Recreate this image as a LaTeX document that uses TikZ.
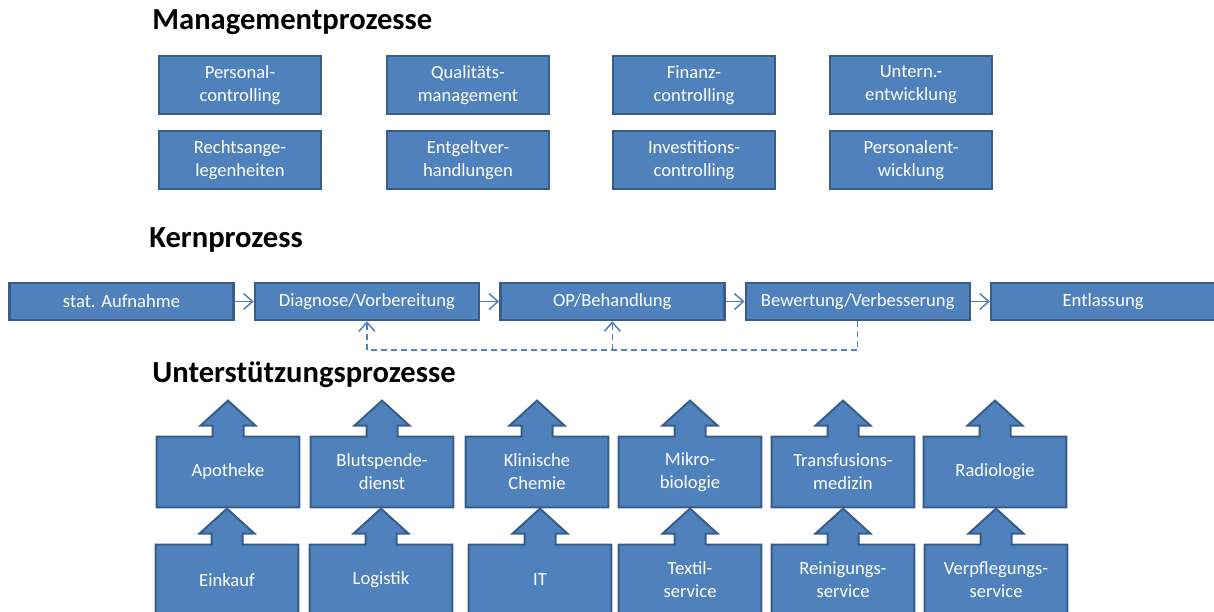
\documentclass[tikz,border=0pt]{standalone}
\usepackage{fontspec}
\setmainfont{Carlito}
\usetikzlibrary{arrows.meta,backgrounds,positioning,calc}
\definecolor{boxfill}{HTML}{4F81BD}
\definecolor{boxline}{HTML}{385D8A}

% box with an up arrow on top (drawn behind the node text)
\newcommand{\supportshape}[1]{%
  \begin{scope}[on background layer]
    \draw[shapeline] (#1.south west) -- (#1.north west) -- ($(#1.north)+(-15.5,0)$)
      -- ++(0,-11) -- ++(-12,0) -- ++(27.5,-25) -- ++(27.5,25) -- ++(-12,0)
      -- ++(0,11) -- (#1.north east) -- (#1.south east) -- cycle;
  \end{scope}}

\begin{document}
\begin{tikzpicture}[x=0.5pt,y=-0.5pt]
  \tikzstyle{title}=[anchor=base west, inner sep=0pt, font=\fontsize{15.3}{17}\selectfont\bfseries]
  \tikzstyle{textbox}=[rectangle, inner sep=0pt, text=white, align=center, font=\fontsize{9.3}{11.5}\selectfont]
  \tikzstyle{mgmtblock}=[textbox, draw=boxline, fill=boxfill, line width=1pt, minimum width=81pt, minimum height=29pt]
  \tikzstyle{coreblock}=[textbox, draw=boxline, fill=boxfill, line width=1.2pt, minimum width=112pt, minimum height=18.5pt]
  \tikzstyle{supportblock}=[textbox, minimum width=71pt, minimum height=35pt]
  \tikzstyle{shapeline}=[draw=boxline, fill=boxfill, line width=1pt, line join=miter]
  \tikzstyle{flow}=[draw=boxfill, line width=0.75pt, -{Straight Barb[length=4.5pt,width=8pt]}]
  \tikzstyle{feedback}=[flow, dash pattern=on 3pt off 2pt]
  \useasboundingbox (0,0) rectangle (1214,611);
  \clip (0,0) rectangle (1214,611);

  % Management
  \node[title] (mtitle) at (152,29) {Managementprozesse};
  \node[mgmtblock] (pc) at (240,85) {Personal-\\controlling};
  \node[mgmtblock] (qm) at (468,85) {Qualitäts-\\management};
  \node[mgmtblock] (fc) at (694,85) {Finanz-\\controlling};
  \node[mgmtblock] (ue) at (911,85) {Untern.-\\entwicklung};
  \node[mgmtblock] (ra) at (240,160) {Rechtsange-\\legenheiten};
  \node[mgmtblock] (ev) at (468,160) {Entgeltver-\\handlungen};
  \node[mgmtblock] (ic) at (694,160) {Investitions-\\controlling};
  \node[mgmtblock] (pe) at (911,160) {Personalent-\\wicklung};

  % Kernprozess
  \node[title] (ktitle) at (149,247) {Kernprozess};
  \node[coreblock] (auf) at (121.5,301.5) {stat. Aufnahme};
  \node[coreblock, right = 9.5pt of auf] (diag) {Diagnose/Vorbereitung};
  \node[coreblock, right = 9.5pt of diag] (op) {OP/Behandlung};
  \node[coreblock, right = 9.5pt of op] (bew) {Bewertung/Verbesserung};
  \node[coreblock, right = 9.5pt of bew] (ent) {Entlassung};
  \draw[flow] (auf) -- (diag);
  \draw[flow] (diag) -- (op);
  \draw[flow] (op) -- (bew);
  \draw[flow] (bew) -- (ent);
  \coordinate (fb) at ($(bew.south)+(0,29)$);
  \draw[feedback] (bew.south) -- (fb) -| (diag.south);
  \draw[feedback] (fb -| op.south) -- (op.south);

  % Unterstuetzung
  \node[title] (utitle) at (152,382) {Unterstützungsprozesse};
  \node[supportblock] (apo) at (228,472) {Apotheke};
  \node[supportblock] (blut) at (382,472) {Blutspende-\\dienst};
  \node[supportblock] (kc) at (537,472) {Klinische\\Chemie};
  \node[supportblock] (mb) at (690,472) {Mikro-\\biologie};
  \node[supportblock] (tm) at (843,472) {Transfusions-\\medizin};
  \node[supportblock] (rad) at (995,472) {Radiologie};
  \node[supportblock] (ek) at (227,580) {Einkauf};
  \node[supportblock] (log) at (381,580) {Logistik};
  \node[supportblock] (it) at (540,580) {IT};
  \node[supportblock] (ts) at (690,580) {Textil-\\service};
  \node[supportblock] (rs) at (843,580) {Reinigungs-\\service};
  \node[supportblock] (vs) at (996,580) {Verpflegungs-\\service};
  \foreach \s in {apo,blut,kc,mb,tm,rad,ek,log,it,ts,rs,vs}
    \supportshape{\s};
\end{tikzpicture}
\end{document}
